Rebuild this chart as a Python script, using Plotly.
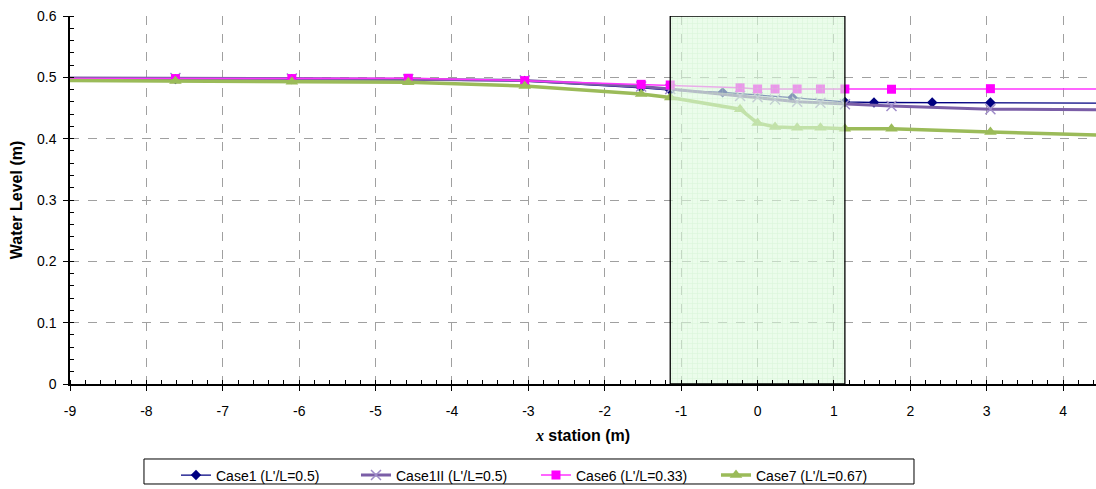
import plotly.graph_objects as go

# Stations (m) along the channel
x_case1 = [-9.144, -7.62, -6.096, -4.572, -3.048, -1.524, -1.143, -0.457, 0.457, 1.143, 1.524, 2.286, 3.048, 4.572]
x_full = [-9.144, -7.62, -6.096, -4.572, -3.048, -1.524, -1.143, -0.229, 0.0, 0.229, 0.518, 0.823, 1.143, 1.753, 3.048, 4.572]

# Water levels (m)
wl_case1 = [0.497, 0.497, 0.497, 0.496, 0.494, 0.483, 0.479, 0.4755, 0.467, 0.460, 0.459, 0.459, 0.459, 0.458]
wl_case1ii = [0.499, 0.499, 0.498, 0.497, 0.495, 0.485, 0.481, 0.4696, 0.4674, 0.464, 0.4603, 0.4587, 0.456, 0.4533, 0.448, 0.447]
wl_case6 = [0.498, 0.498, 0.498, 0.4985, 0.4946, 0.4886, 0.4875, 0.4830, 0.481, 0.481, 0.481, 0.481, 0.481, 0.4806, 0.4815, 0.481]
wl_case7 = [0.495, 0.494, 0.493, 0.492, 0.486, 0.473, 0.467, 0.448, 0.4255, 0.419, 0.418, 0.418, 0.416, 0.416, 0.411, 0.4055]

# Vegetated reach limits (m)
zone_x = [-1.143, 1.143]
zone_top = 0.6

x_ticks = list(range(-9, 5))
x_tick_text = [str(v) for v in x_ticks]
y_ticks = [0, 0.1, 0.2, 0.3, 0.4, 0.5, 0.6]
y_tick_text = ["0", "0.1", "0.2", "0.3", "0.4", "0.5", "0.6"]

FONT = "Liberation Sans, Arial, sans-serif"

fig = go.Figure()

fig.add_trace(go.Scatter(
    x=x_case1, y=wl_case1, mode="lines+markers", name="Case1 (L'/L=0.5)",
    line=dict(color="#000080", width=1.3),
    marker=dict(symbol="diamond", size=8, color="#000080"),
))
fig.add_trace(go.Scatter(
    x=x_full, y=wl_case1ii, mode="lines+markers", name="Case1II (L'/L=0.5)",
    line=dict(color="#7B5EA7", width=3),
    marker=dict(symbol="x-thin", size=10, color="#9F8CC8",
                line=dict(color="#9F8CC8", width=1.5)),
))
fig.add_trace(go.Scatter(
    x=x_full, y=wl_case6, mode="lines+markers", name="Case6 (L'/L=0.33)",
    line=dict(color="#FF33FF", width=1.5),
    marker=dict(symbol="square", size=9, color="#FF00FF"),
))
fig.add_trace(go.Scatter(
    x=x_full, y=wl_case7, mode="lines+markers", name="Case7 (L'/L=0.67)",
    line=dict(color="#9BBB59", width=3.5),
    marker=dict(symbol="triangle-up", size=11, color="#9BBB59"),
))

# Vegetated zone: translucent hatched box drawn over the profiles
fig.add_trace(go.Scatter(
    x=[zone_x[0], zone_x[1], zone_x[1], zone_x[0], zone_x[0]],
    y=[0, 0, zone_top, zone_top, 0],
    mode="lines", fill="toself",
    fillcolor="rgba(215,250,215,0.6)",
    fillpattern=dict(shape="+", fgcolor="rgba(185,235,185,0.95)",
                     bgcolor="rgba(222,250,222,0.6)", size=5, solidity=0.15),
    line=dict(color="black", width=1.3),
    showlegend=False, hoverinfo="skip",
))

fig.update_layout(
    width=1096, height=489,
    margin=dict(l=70, r=0, t=16, b=105, autoexpand=False),
    paper_bgcolor="white", plot_bgcolor="white",
    font=dict(family=FONT, size=14, color="black"),
    legend=dict(
        orientation="h", x=0.1033, xanchor="left", y=-0.205, yanchor="top",
        borderwidth=0, bgcolor="rgba(0,0,0,0)", font=dict(size=14),
        traceorder="normal", itemwidth=30,
        entrywidth=135, entrywidthmode="pixels",
    ),
    # frame around the legend row
    shapes=[dict(type="rect", xref="paper", yref="paper",
                 x0=0.0721, x1=0.8226, y0=-0.2717, y1=-0.2038,
                 line=dict(color="black", width=1), fillcolor="rgba(0,0,0,0)")],
    xaxis=dict(
        range=[-9, 4.43], tickmode="array", tickvals=x_ticks, ticktext=x_tick_text,
        showgrid=True, gridcolor="#A0A0A0", griddash="dash", gridwidth=1,
        showline=True, linecolor="black", linewidth=1.5,
        ticks="outside", ticklen=5, tickcolor="black", ticklabelstandoff=8,
        minor=dict(dtick=0.2, ticks="inside", ticklen=4, tickcolor="black", showgrid=False),
        zeroline=False, automargin=False,
        title=dict(text="<b><span style='font-family:Liberation Serif'><i>x</i></span> station (m)</b>",
                   font=dict(size=16), standoff=12),
    ),
    yaxis=dict(
        range=[0, 0.6], tickmode="array", tickvals=y_ticks, ticktext=y_tick_text,
        showgrid=True, gridcolor="#A0A0A0", griddash="dash", gridwidth=1,
        showline=True, linecolor="black", linewidth=1.5,
        ticks="outside", ticklen=5, tickcolor="black", ticklabelstandoff=4,
        minor=dict(dtick=0.02, ticks="inside", ticklen=4, tickcolor="black", showgrid=False),
        zeroline=False, automargin=False,
        title=dict(text="<b>Water Level (m)</b>", font=dict(size=16), standoff=10),
    ),
)

fig.write_html("out.html")
